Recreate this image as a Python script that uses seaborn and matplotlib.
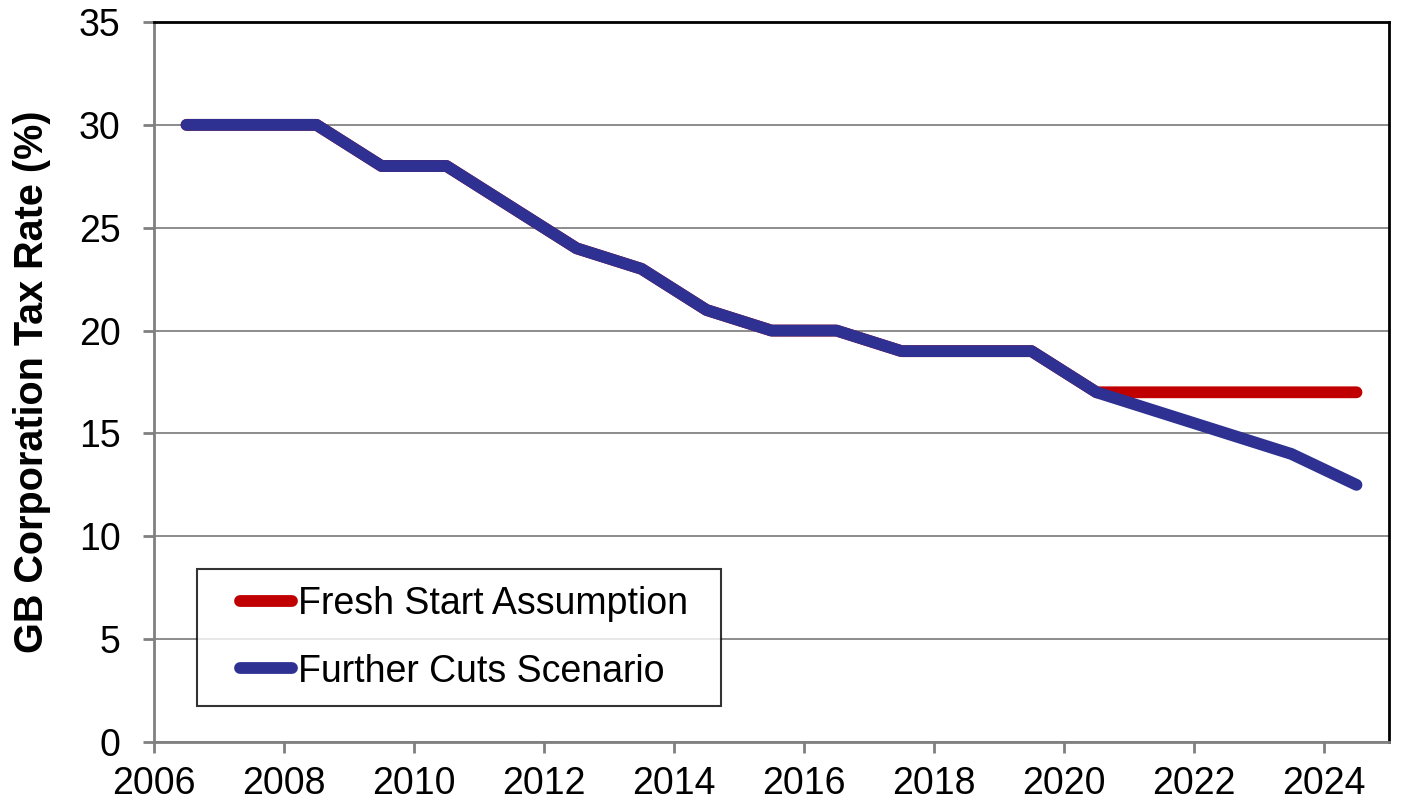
import numpy as np
import pandas as pd
import matplotlib
matplotlib.use("Agg")
import matplotlib.pyplot as plt
from matplotlib.legend_handler import HandlerLine2D
import seaborn as sns

# data (fiscal years, plotted mid-year)
years = [2006.5, 2007.5, 2008.5, 2009.5, 2010.5, 2011.5, 2012.5, 2013.5, 2014.5,
         2015.5, 2016.5, 2017.5, 2018.5, 2019.5, 2020.5, 2021.5, 2022.5, 2023.5, 2024.5]
fresh_start = [30, 30, 30, 28, 28, 26, 24, 23, 21, 20, 20, 19, 19, 19, 17, 17, 17, 17, 17]
further_cuts = [30, 30, 30, 28, 28, 26, 24, 23, 21, 20, 20, 19, 19, 19, 17, 16, 15, 14, 12.5]
series_names = ['Fresh Start Assumption', 'Further Cuts Scenario']
tick_years = list(range(2006, 2025, 2))
y_ticks = list(range(0, 36, 5))

df = pd.DataFrame({
    'year': years * 2,
    'rate': fresh_start + further_cuts,
    'series': [series_names[0]] * len(years) + [series_names[1]] * len(years),
})


class PadHandler(HandlerLine2D):
    # short legend line pushed to the right end of the handle box
    def get_xdata(self, legend, xdescent, ydescent, width, height, fontsize):
        x = np.array([width - 1.5 * fontsize, width - 0.1 * fontsize])
        return x, x


sns.set_style('white')
plt.rcParams['font.family'] = ['Liberation Sans', 'DejaVu Sans']
plt.rcParams['text.color'] = 'black'
plt.rcParams['axes.labelcolor'] = 'black'

fig = plt.figure(figsize=(14.04, 8.02), dpi=100)
ax = fig.add_axes([154 / 1404, 60 / 802, 1235 / 1404, 720 / 802])

palette = {series_names[0]: '#C00000', series_names[1]: '#2E3192'}
sns.lineplot(data=df, x='year', y='rate', hue='series', hue_order=series_names,
             palette=palette, linewidth=8.5, solid_capstyle='round',
             solid_joinstyle='round', ax=ax)

ax.set_xlim(2006, 2025)
ax.set_ylim(0, 35)
ax.set_xticks(tick_years)
ax.set_yticks(y_ticks)
ax.yaxis.grid(True, color='#8C8C8C', linewidth=1.4)
ax.set_axisbelow(True)

for side in ['left', 'bottom']:
    ax.spines[side].set_color('#808080')
    ax.spines[side].set_linewidth(2)
for side in ['top', 'right']:
    ax.spines[side].set_visible(True)
    ax.spines[side].set_color('black')
    ax.spines[side].set_linewidth(2)

ax.tick_params(axis='both', labelsize=27, colors='#808080', labelcolor='black',
               length=8, width=2, direction='out')
ax.tick_params(axis='x', pad=9, bottom=True)
ax.tick_params(axis='y', pad=16, left=True)

ax.set_xlabel('')
ax.set_ylabel('GB Corporation Tax Rate (%)', fontsize=28.5, fontweight='bold', labelpad=20)

handles, labels = ax.get_legend_handles_labels()
leg = ax.legend(handles, labels, loc='lower left',
                bbox_to_anchor=(43 / 1235, 36 / 720, 524 / 1235, 136 / 720),
                mode='expand', borderaxespad=0, fontsize=27, frameon=True,
                fancybox=False, handlelength=2.2, handletextpad=0.05,
                labelspacing=0.85, borderpad=0.44, edgecolor='black',
                handler_map={h: PadHandler() for h in handles})
leg.get_frame().set_linewidth(1.5)

fig.savefig('out.png', dpi=100)
